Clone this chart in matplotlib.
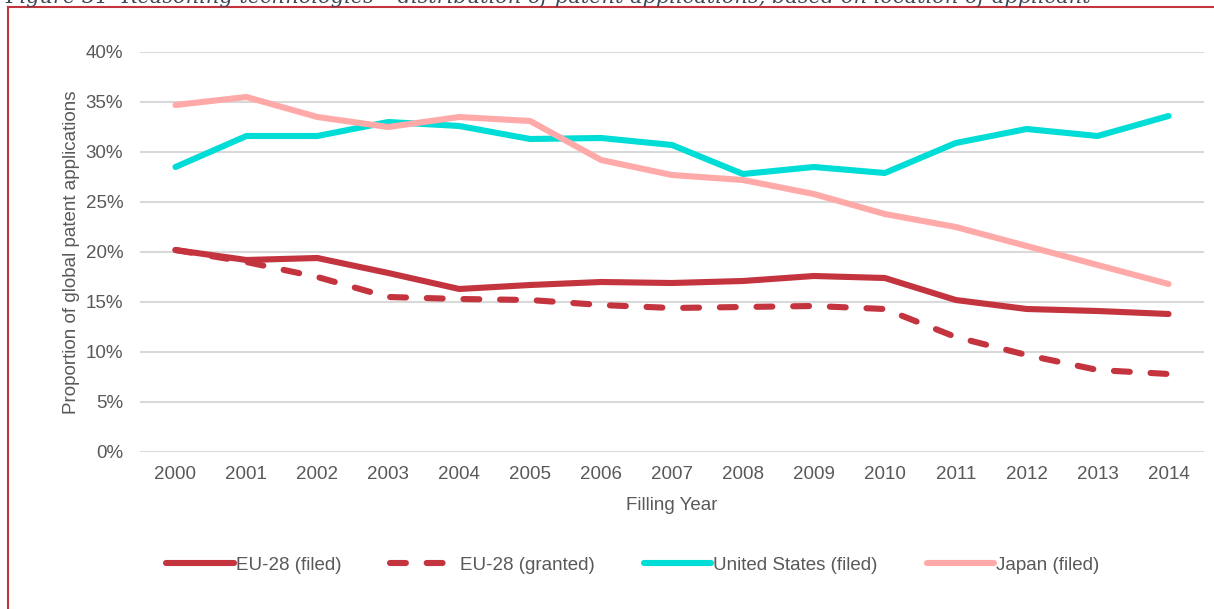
import matplotlib.pyplot as plt
from matplotlib.lines import Line2D
from matplotlib.ticker import PercentFormatter

years = [str(y) for y in range(2000, 2015)]
eu_filed = [20.2, 19.2, 19.4, 17.9, 16.3, 16.7, 17.0, 16.9, 17.1, 17.6, 17.4, 15.2, 14.3, 14.1, 13.8]
eu_granted = [20.2, 19.0, 17.5, 15.5, 15.3, 15.2, 14.7, 14.4, 14.5, 14.6, 14.3, 11.5, 9.7, 8.2, 7.8]
us_filed = [28.5, 31.6, 31.6, 33.0, 32.6, 31.3, 31.4, 30.7, 27.8, 28.5, 27.9, 30.9, 32.3, 31.6, 33.6]
japan_filed = [34.7, 35.5, 33.5, 32.5, 33.5, 33.1, 29.2, 27.7, 27.2, 25.8, 23.8, 22.5, 20.6, 18.7, 16.8]

red = "#c4343f"
cyan = "#00ddd6"
pink = "#ffa9a9"
grey = "#595959"
fs = 13.5

plt.rcParams["font.family"] = ["Liberation Sans", "DejaVu Sans"]

fig = plt.figure(figsize=(12.14, 6.09), dpi=100)
ax = fig.add_axes([140 / 1214, 1 - 452 / 609, 1064 / 1214, 400 / 609])

x = range(len(years))
lw = 4.4
ax.plot(x, eu_filed, color=red, lw=lw, solid_capstyle="round", label="EU-28 (filed)", zorder=3)
ax.plot(x, eu_granted, color=red, lw=lw, dashes=(2.6, 3.4), dash_capstyle="round",
        label="EU-28 (granted)", zorder=3)
ax.plot(x, us_filed, color=cyan, lw=lw, solid_capstyle="round", label="United States (filed)", zorder=3)
ax.plot(x, japan_filed, color=pink, lw=lw, solid_capstyle="round", label="Japan (filed)", zorder=3)

ax.set_xlim(-0.5, len(years) - 0.5)
ax.set_ylim(0, 40)
ax.set_yticks(range(0, 41, 5))
ax.yaxis.set_major_formatter(PercentFormatter(decimals=0))
ax.set_xticks(list(x))
ax.set_xticklabels(years)
ax.grid(axis="y", color="#d9d9d9", lw=1.5, zorder=0)
for s in ax.spines.values():
    s.set_visible(False)
ax.tick_params(length=0, labelsize=fs, labelcolor=grey)
ax.tick_params(axis="y", pad=12)
ax.tick_params(axis="x", pad=10)

ax.set_xlabel("Filling Year", fontsize=fs, color=grey, labelpad=10)
ax.set_ylabel("Proportion of global patent applications", fontsize=fs, color=grey, labelpad=4)

fig.legend(loc="center", bbox_to_anchor=(633 / 1214, 1 - 565 / 609), ncol=4, frameon=False,
           fontsize=fs, labelcolor=grey, handlelength=3.6, handletextpad=0.12,
           columnspacing=2.6)

# caption running off the top, plus the red frame
fig.text(5 / 1214, 1 - 3 / 609,
         "Figure 31  Reasoning technologies \u2013 distribution of patent applications, based on location of applicant",
         fontsize=15, family="DejaVu Serif", style="italic", color="#3b4856", va="baseline")
fig.add_artist(Line2D([8 / 1214, 8 / 1214], [0, 1 - 7 / 609], color=red, lw=1.5))
fig.add_artist(Line2D([8 / 1214, 1], [1 - 7 / 609, 1 - 7 / 609], color=red, lw=1.5))

fig.savefig("out.png", dpi=100)
